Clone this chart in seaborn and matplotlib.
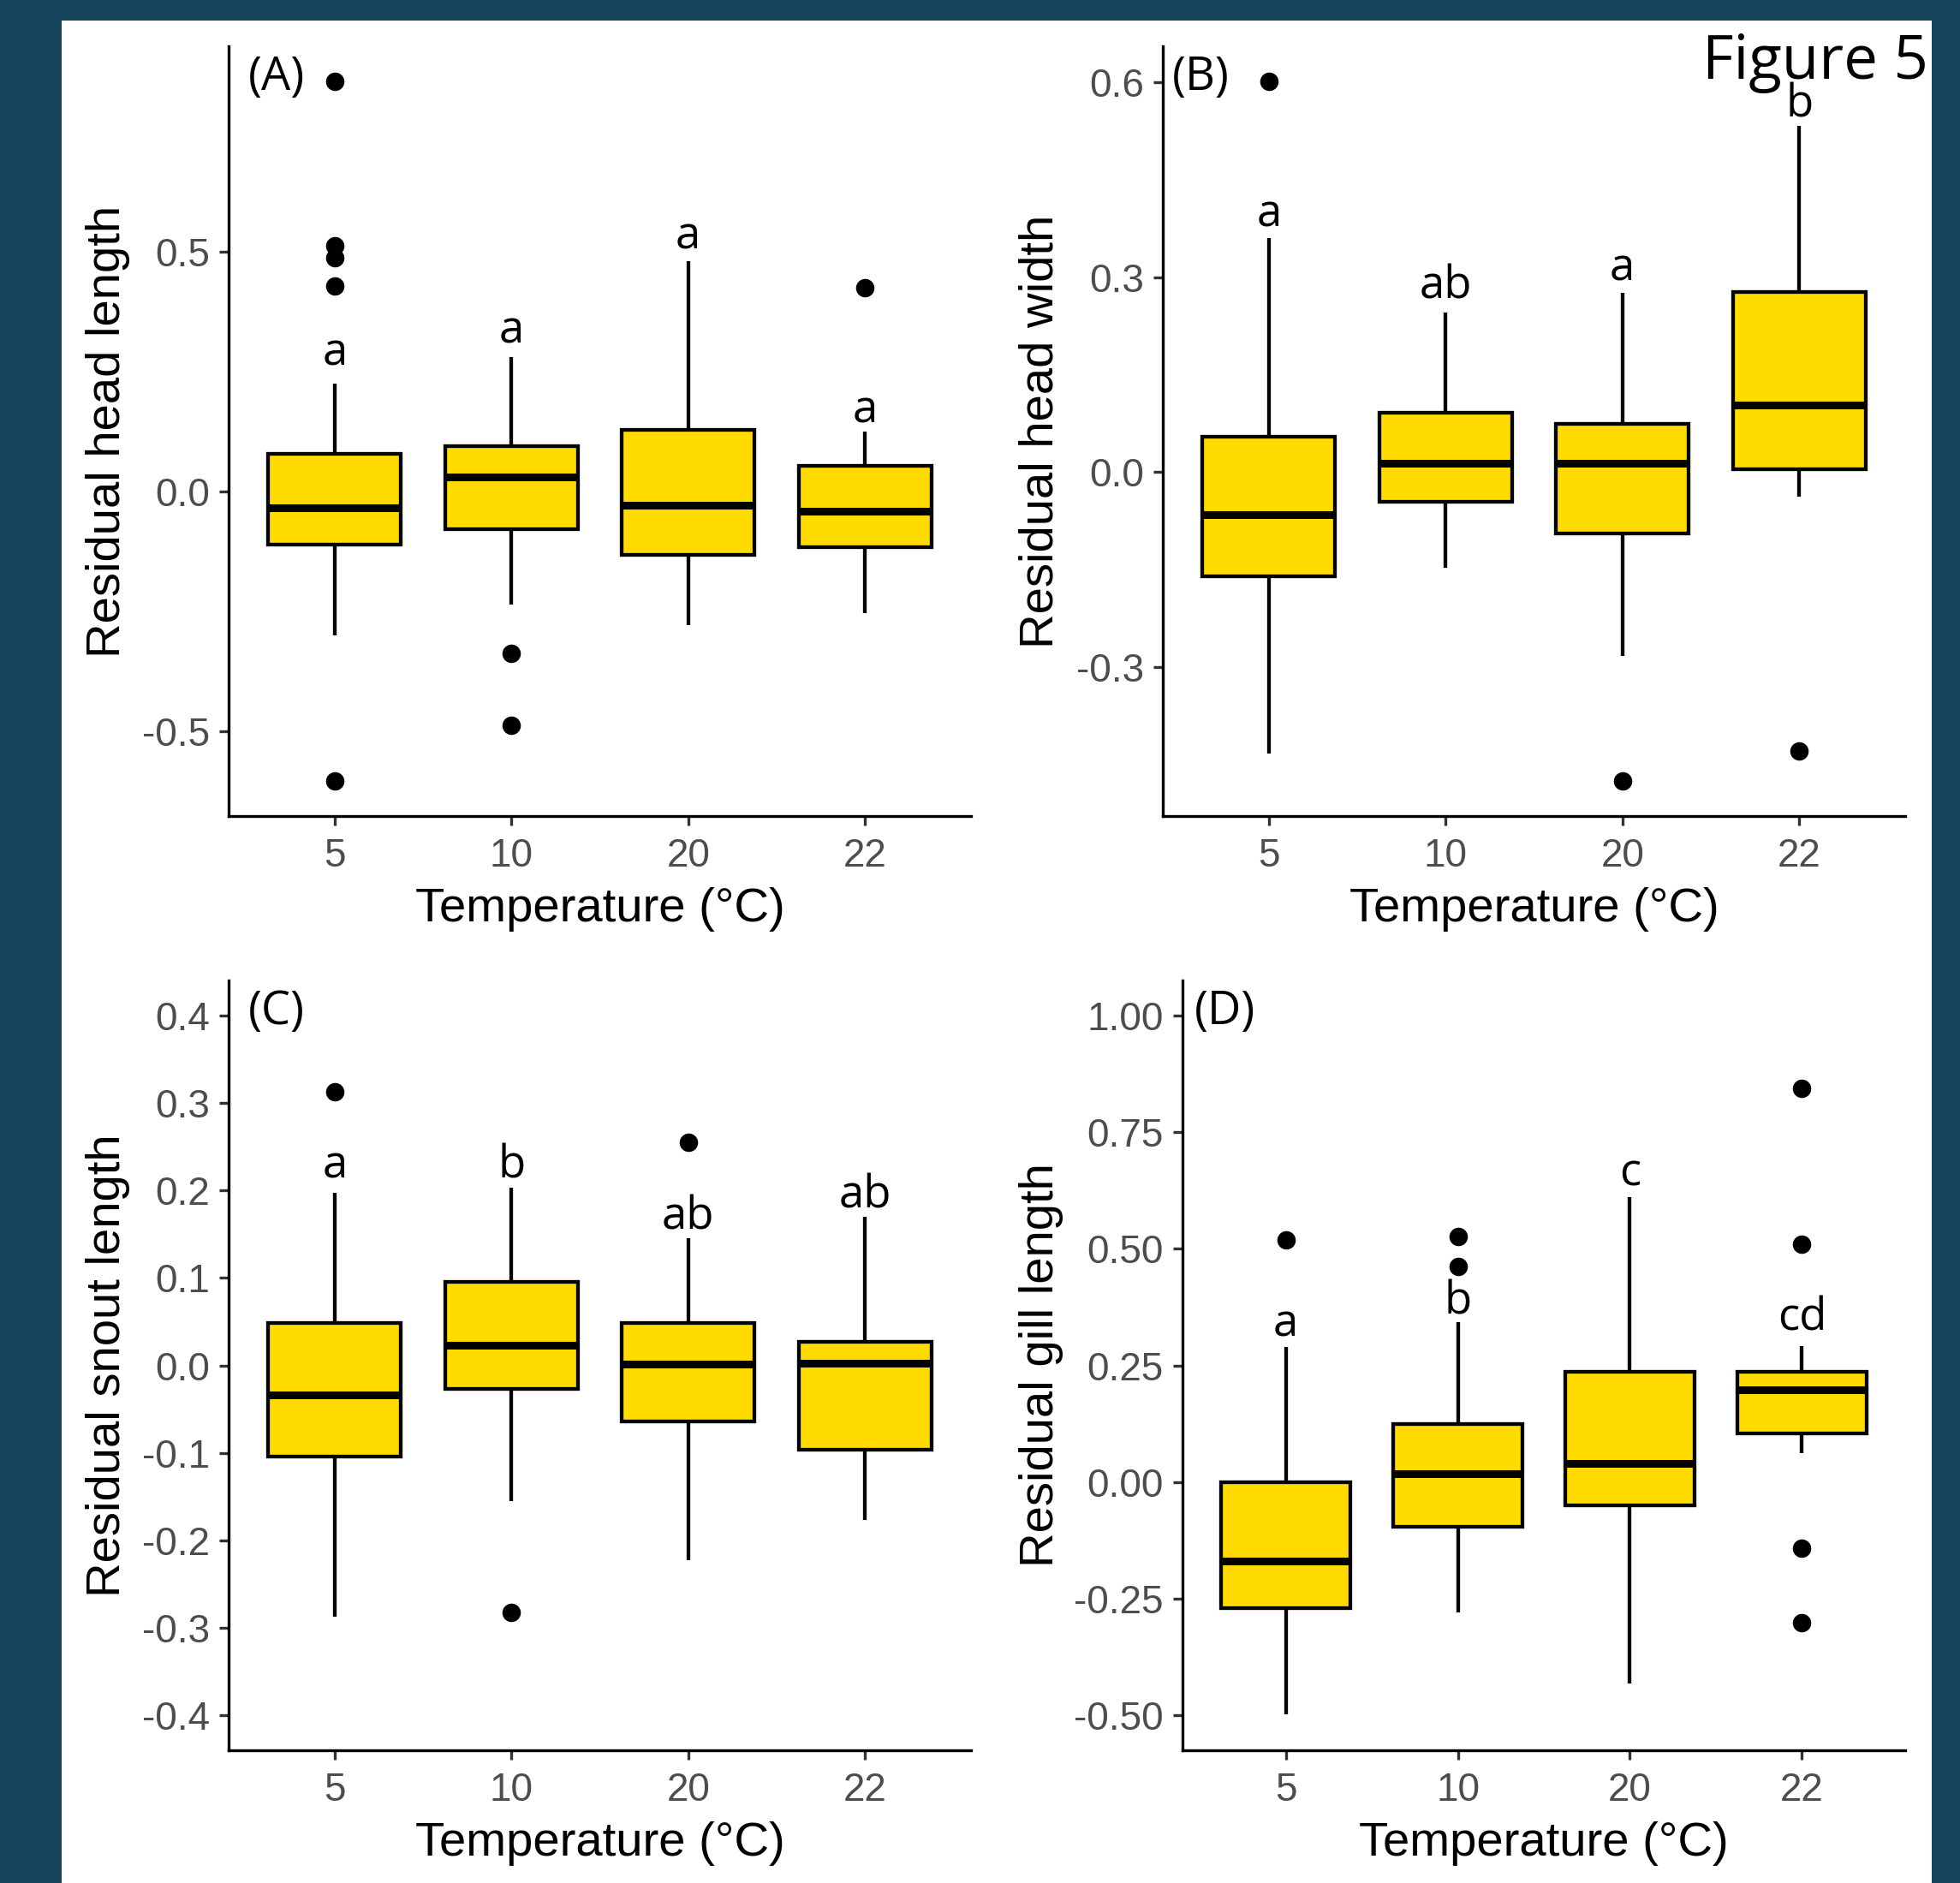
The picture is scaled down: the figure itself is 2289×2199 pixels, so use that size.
import numpy as np
import pandas as pd
import matplotlib.pyplot as plt
import seaborn as sns
from matplotlib.patches import Rectangle

sns.set_theme(style='ticks')
plt.rcParams['font.family'] = ['Liberation Sans', 'DejaVu Sans']
plt.rcParams['axes.unicode_minus'] = False

temps = ['5', '10', '20', '22']

# boxes: [lower whisker, Q1, median, Q3, upper whisker]
head_length_box = [[-0.300, -0.110, -0.034, 0.078, 0.225],
                   [-0.235, -0.078, 0.031, 0.094, 0.281],
                   [-0.279, -0.133, -0.028, 0.128, 0.481],
                   [-0.254, -0.116, -0.041, 0.053, 0.125]]
head_length_out = [[0.856, 0.513, 0.488, 0.428, -0.604], [-0.338, -0.488], [], [0.425]]
head_length_letters = ['a', 'a', 'a', 'a']
head_length_letter_y = [0.263, 0.310, 0.506, 0.144]

head_width_box = [[-0.434, -0.160, -0.065, 0.055, 0.360],
                  [-0.147, -0.046, 0.013, 0.092, 0.246],
                  [-0.283, -0.095, 0.014, 0.074, 0.276],
                  [-0.038, 0.004, 0.103, 0.277, 0.533]]
head_width_out = [[0.602], [], [-0.476], [-0.430]]
head_width_letters = ['a', 'ab', 'a', 'b']
head_width_letter_y = [0.378, 0.268, 0.295, 0.547]

snout_length_box = [[-0.287, -0.104, -0.034, 0.048, 0.197],
                    [-0.155, -0.027, 0.023, 0.095, 0.203],
                    [-0.223, -0.064, 0.001, 0.048, 0.145],
                    [-0.177, -0.096, 0.002, 0.027, 0.170]]
snout_length_out = [[0.313], [-0.282], [0.255], []]
snout_length_letters = ['a', 'b', 'ab', 'ab']
snout_length_letter_y = [0.214, 0.214, 0.156, 0.180]

gill_length_box = [[-0.498, -0.270, -0.170, 0.000, 0.289],
                   [-0.279, -0.096, 0.018, 0.124, 0.342],
                   [-0.432, -0.051, 0.039, 0.236, 0.610],
                   [0.062, 0.105, 0.198, 0.236, 0.292]]
gill_length_out = [[0.518], [0.527, 0.462], [], [0.844, 0.510, -0.141, -0.302]]
gill_length_letters = ['a', 'b', 'c', 'cd']
gill_length_letter_y = [0.312, 0.360, 0.636, 0.325]

gold = '#FFDB00'
bg = '#16455E'
W, H = 2289, 2199
lw = 3.1

fig = plt.figure(figsize=(W / 100, H / 100), dpi=100, facecolor=bg)
fig.patches.append(Rectangle((72 / W, 0), (2256 - 72) / W, 1 - 24 / H,
                             transform=fig.transFigure, facecolor='white',
                             edgecolor='none', zorder=-10))

panels = [
    # box, outliers, letters, letter y, ylabel, tag, ylim, yticks, fmt, rect(px), label x, tag x
    (head_length_box, head_length_out, head_length_letters, head_length_letter_y,
     'Residual head length', '(A)', (-0.677, 0.929), [-0.5, 0.0, 0.5], '{:.1f}',
     (267, 1134, 54, 953), -0.133, 0.026),
    (head_width_box, head_width_out, head_width_letters, head_width_letter_y,
     'Residual head width', '(B)', (-0.530, 0.656), [-0.3, 0.0, 0.3, 0.6], '{:.1f}',
     (1358, 2225, 54, 953), -0.134, 0.012),
    (snout_length_box, snout_length_out, snout_length_letters, snout_length_letter_y,
     'Residual snout length', '(C)', (-0.44, 0.44), np.round(np.arange(-0.4, 0.41, 0.1), 1), '{:.1f}',
     (267, 1134, 1145, 2044), -0.133, 0.026),
    (gill_length_box, gill_length_out, gill_length_letters, gill_length_letter_y,
     'Residual gill length', '(D)', (-0.575, 1.075), [-0.5, -0.25, 0.0, 0.25, 0.5, 0.75, 1.0], '{:.2f}',
     (1381, 2225, 1145, 2044), -0.165, 0.016),
]

for box, out, letters, letter_y, ylabel, tag, ylim, yticks, fmt, rect, labx, tagx in panels:
    left, right, top, bottom = rect
    ax = fig.add_axes([left / W, 1 - bottom / H, (right - left) / W, (bottom - top) / H])
    ax.set_facecolor('none')

    box_df = pd.DataFrame([(t, v) for t, vals in zip(temps, box) for v in vals],
                          columns=['temp', 'value'])
    out_df = pd.DataFrame([(t, v) for t, vals in zip(temps, out) for v in vals],
                          columns=['temp', 'value'])

    sns.boxplot(data=box_df, x='temp', y='value', order=temps, ax=ax,
                whis=(0, 100), width=0.75, color=gold, saturation=1,
                linecolor='black', linewidth=lw, showcaps=False, fliersize=0,
                boxprops={'linewidth': lw}, whiskerprops={'linewidth': lw},
                medianprops={'linewidth': 6.5})
    sns.stripplot(data=out_df, x='temp', y='value', order=temps, ax=ax,
                  jitter=False, color='black', size=15.5, linewidth=0, zorder=5)

    for i, (lab, ly) in enumerate(zip(letters, letter_y)):
        ax.text(i, ly, lab, ha='center', va='baseline', fontsize=38,
                family=['Open Sans', 'DejaVu Sans'], color='black')
    ax.text(tagx, 0.943, tag, transform=ax.transAxes, ha='left', va='baseline',
            fontsize=39, family=['Open Sans', 'DejaVu Sans'], color='black')

    ax.set_xlim(-0.6, 3.6)
    ax.set_ylim(*ylim)
    ax.set_yticks(yticks)
    ax.set_yticklabels([fmt.format(v + 0.0) for v in yticks])
    sns.despine(ax=ax)
    for side in ['left', 'bottom']:
        ax.spines[side].set_linewidth(2.4)
        ax.spines[side].set_color('black')
    ax.tick_params(axis='both', direction='out', length=8, width=2.4, color='#333333',
                   labelsize=33, labelcolor='#4D4D4D', pad=8)
    ax.tick_params(axis='x', pad=10)
    ax.set_xlabel('Temperature (°C)', fontsize=40.5, color='black')
    ax.set_ylabel(ylabel, fontsize=40.5, color='black')
    ax.xaxis.set_label_coords(0.5, -0.092)
    ax.yaxis.set_label_coords(labx, 0.5)

fig.text(2252 / W, 1 - 92 / H, 'Figure 5', ha='right', va='baseline', fontsize=51,
         family=['Open Sans', 'DejaVu Sans'], color='black')

fig.savefig('out.png', dpi=100, facecolor=bg)
